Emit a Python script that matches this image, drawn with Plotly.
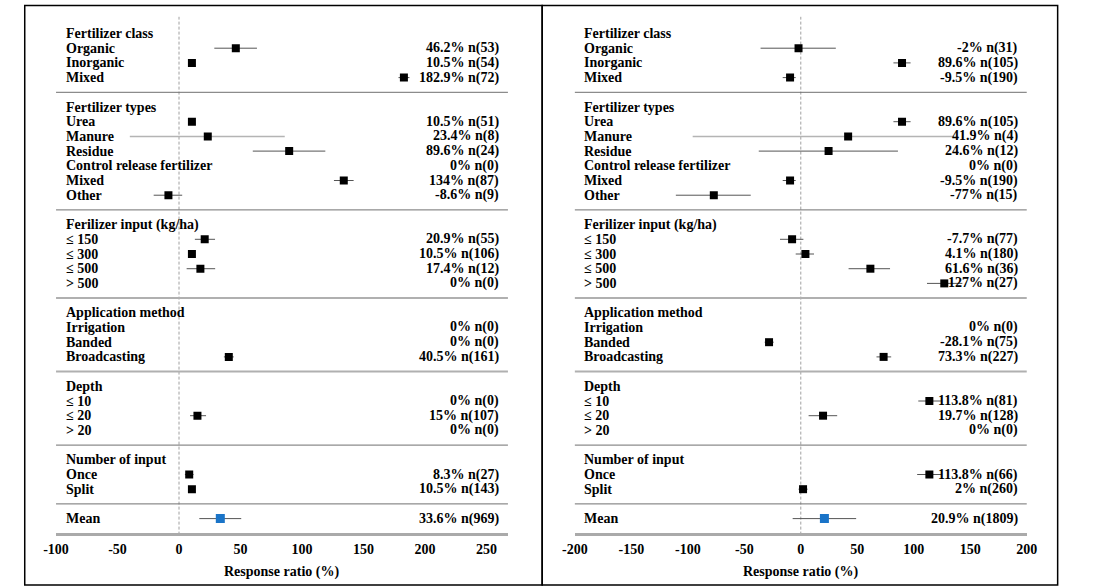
import plotly.graph_objects as go

# ---------------- data ----------------
group_titles = ["Fertilizer class", "Fertilizer types", "Ferilizer input (kg/ha)",
                "Application method", "Depth", "Number of input", None]
group_items = [
    ["Organic", "Inorganic", "Mixed"],
    ["Urea", "Manure", "Residue", "Control release fertilizer", "Mixed", "Other"],
    ["≤ 150", "≤ 300", "≤ 500", "> 500"],
    ["Irrigation", "Banded", "Broadcasting"],
    ["≤ 10", "≤ 20", "> 20"],
    ["Once", "Split"],
    ["Mean"],
]

left_rr = [46.2, 10.5, 182.9, 10.5, 23.4, 89.6, 0, 134, -8.6, 20.9, 10.5, 17.4, 0,
           0, 0, 40.5, 0, 15, 0, 8.3, 10.5, 33.6]
left_n = [53, 54, 72, 51, 8, 24, 0, 87, 9, 55, 106, 12, 0, 0, 0, 161, 0, 107, 0, 27, 143, 969]
left_lo = [28.7, 8.5, 178.5, 8.5, -40, 60, None, 126, -20.6, 12.9, 8.5, 6.2, None,
           None, None, 36.5, None, 9, None, 4.8, 8.5, 16.5]
left_hi = [63.4, 12.5, 187.4, 12.5, 86, 119, None, 142, 2.6, 29.3, 12.5, 29.4, None,
           None, None, 44.5, None, 22, None, 11.8, 12.5, 50.6]

right_rr = [-2, 89.6, -9.5, 89.6, 41.9, 24.6, 0, -9.5, -77, -7.7, 4.1, 61.6, 127,
            0, -28.1, 73.3, 113.8, 19.7, 0, 113.8, 2, 20.9]
right_n = [31, 105, 190, 105, 4, 12, 0, 190, 15, 77, 180, 36, 27, 0, 75, 227, 81, 128, 0, 66, 260, 1809]
right_lo = [-35.6, 82, -16, 82, -95.7, -37.2, None, -16, -110.6, -18.4, -4.5, 42.3, 111.7,
            None, -32, 67, 104, 6.9, None, 103, -2, -7.2]
right_hi = [31, 97.2, -4.5, 97.2, 135.6, 86, None, -4.5, -44.3, 2.3, 11.7, 79, 143,
            None, -24, 80, 124, 32.2, None, 125, 6, 49]

x_ticks_left = [-100, -50, 0, 50, 100, 150, 200, 250]
x_ticktext_left = ["-100", "-50", "0", "50", "100", "150", "200", "250"]
x_ticks_right = [-200, -150, -100, -50, 0, 50, 100, 150, 200]
x_ticktext_right = ["-200", "-150", "-100", "-50", "0", "50", "100", "150", "200"]
axis_title = "Response ratio (%)"

# ---------------- row layout ----------------
item_rows, header_rows, sep_rows = [], [], []
labels = []
r = 0
for gi, (title, items) in enumerate(zip(group_titles, group_items)):
    if title is not None:
        header_rows.append((r, title))
        r += 1
    for it in items:
        item_rows.append(r)
        labels.append(it)
        r += 1
    if gi < len(group_items) - 1:
        sep_rows.append(r)
        r += 1
axis_row = r  # bottom

W, H = 1098, 588
ROW0, DY = 33.5, 14.7
TOP_R = -1.15
def ypx(rr):
    return ROW0 + DY * rr
y_dom = [(H - ypx(axis_row)) / H, (H - ypx(TOP_R)) / H]

FONT = "Liberation Serif"
fig = go.Figure()

panels = [
    dict(xa="x", dom=[44 / W, 506 / W], rng=[-100, 267.5],
         rr=left_rr, n=left_n, lo=left_lo, hi=left_hi, lab_x=52, val_x=499,
         frame=(12, 541)),
    dict(xa="x2", dom=[574.4 / W, 1036.4 / W], rng=[-200, 200],
         rr=right_rr, n=right_n, lo=right_lo, hi=right_hi, lab_x=582, val_x=1029,
         frame=(541, 1068)),
]

annotations = []
shapes = []
sep_style = ["#707070", "#707070", "#b0b0b0", "#b0b0b0", "#707070", "#707070"]
sep_width = [1, 1, 2, 2, 1, 1]
tfont = dict(family=FONT, size=14, color="black", weight="bold")

for p in panels:
    xa = p["xa"]
    dark_x, dark_y, light_x, light_y = [], [], [], []
    mx, my, bx, by = [], [], [], []
    for i, row in enumerate(item_rows):
        if p["n"][i] == 0:
            continue
        if p["lo"][i] is not None:
            if labels[i] == "Manure":
                light_x += [p["lo"][i], p["hi"][i], None]
                light_y += [row, row, None]
            else:
                dark_x += [p["lo"][i], p["hi"][i], None]
                dark_y += [row, row, None]
        if labels[i] == "Mean":
            bx.append(p["rr"][i]); by.append(row)
        else:
            mx.append(p["rr"][i]); my.append(row)
    fig.add_trace(go.Scatter(x=dark_x, y=dark_y, xaxis=xa, yaxis="y", mode="lines",
                             line=dict(color="#555555", width=1), hoverinfo="skip", showlegend=False))
    fig.add_trace(go.Scatter(x=light_x, y=light_y, xaxis=xa, yaxis="y", mode="lines",
                             line=dict(color="#b4b4b4", width=1.5), hoverinfo="skip", showlegend=False))
    fig.add_trace(go.Scatter(x=mx, y=my, xaxis=xa, yaxis="y", mode="markers",
                             marker=dict(symbol="square", size=8, color="black"), showlegend=False))
    fig.add_trace(go.Scatter(x=bx, y=by, xaxis=xa, yaxis="y", mode="markers",
                             marker=dict(symbol="square", size=9, color="#1a74c8"), showlegend=False))

    for row, title in header_rows:
        annotations.append(dict(x=p["lab_x"] / W, xref="paper", y=row, yref="y", text=title,
                                xanchor="left", yanchor="middle", showarrow=False, font=tfont))
    for i, row in enumerate(item_rows):
        annotations.append(dict(x=p["lab_x"] / W, xref="paper", y=row, yref="y", text=labels[i],
                                xanchor="left", yanchor="middle", showarrow=False, font=tfont))
        annotations.append(dict(x=p["val_x"] / W, xref="paper", y=row, yref="y",
                                text=f"{p['rr'][i]:g}% n({p['n'][i]})",
                                xanchor="right", yanchor="middle", showarrow=False, font=tfont))
    annotations.append(dict(x=(p["dom"][0] + p["dom"][1]) / 2, xref="paper", y=(H - 572) / H, yref="paper",
                            text=axis_title, xanchor="center", yanchor="middle", showarrow=False,
                            font=tfont))
    dref = xa + " domain"
    for k, sr in enumerate(sep_rows):
        shapes.append(dict(type="line", xref=dref, x0=0, x1=1, yref="y", y0=sr, y1=sr,
                           line=dict(color=sep_style[k], width=sep_width[k])))
    shapes.append(dict(type="line", xref=xa, x0=0, x1=0, yref="y", y0=TOP_R, y1=axis_row,
                       line=dict(color="#a0a0a0", width=1, dash="3px,2px"), layer="below"))
    fx0, fx1 = p["frame"]
    shapes.append(dict(type="rect", xref="paper", yref="paper", x0=fx0 / W, x1=fx1 / W,
                       y0=(H - 585) / H, y1=(H - 5.5) / H, line=dict(color="black", width=1.5)))

axis_common = dict(showgrid=False, zeroline=False, showline=True, linecolor="#aaaaaa",
                   linewidth=2.5, ticks="", anchor="y", ticklabelstandoff=1,
                   tickfont=tfont)

fig.update_layout(
    width=W, height=H,
    margin=dict(l=0, r=0, t=0, b=0),
    paper_bgcolor="white", plot_bgcolor="white",
    xaxis=dict(domain=panels[0]["dom"], range=panels[0]["rng"], tickvals=x_ticks_left,
               ticktext=x_ticktext_left, **axis_common),
    xaxis2=dict(domain=panels[1]["dom"], range=panels[1]["rng"], tickvals=x_ticks_right,
                ticktext=x_ticktext_right, **axis_common),
    yaxis=dict(domain=y_dom, range=[axis_row, TOP_R], visible=False, showgrid=False, zeroline=False),
    annotations=annotations,
    shapes=shapes,
    showlegend=False,
)

fig.write_html("out.html", config={"displayModeBar": False},
               post_script="document.body.style.margin='0';")
